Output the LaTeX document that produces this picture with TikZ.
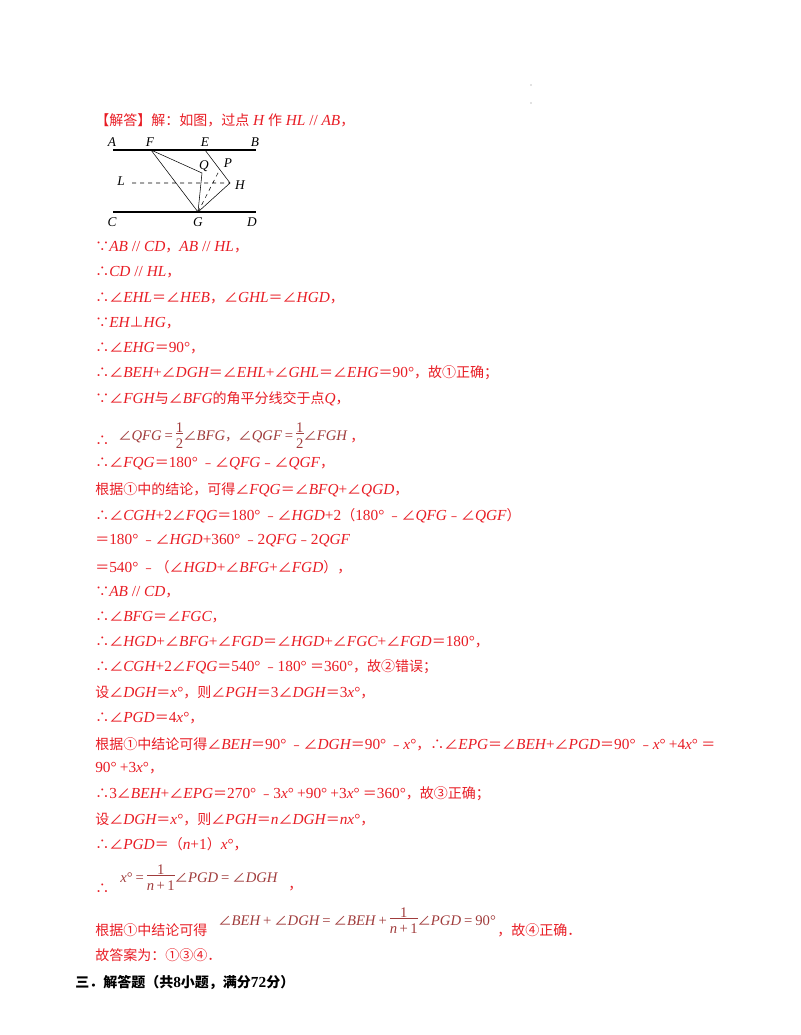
\documentclass[tikz,border=0pt]{standalone}
\usepackage{fontspec}
\setmainfont{Noto Sans CJK SC}
\newfontfamily\tms{Liberation Serif}
\newcommand\I[1]{{\tms\itshape\fontsize{11.5pt}{12pt}\selectfont #1}}
\newcommand\R[1]{{\tms\fontsize{11.5pt}{12pt}\selectfont #1}}
\newcommand\F[1]{{\tms\itshape\fontsize{11pt}{12pt}\selectfont #1}}
\newcommand\FR[1]{{\tms\fontsize{11pt}{12pt}\selectfont #1}}
\newcommand\frc[2]{\begin{tabular}{@{}c@{}}\FR{#1}\\[-3pt]\hline\rule{0pt}{11pt}\FR{#2}\end{tabular}}
\definecolor{rd}{RGB}{232,28,36}
\definecolor{fr}{RGB}{160,60,60}
\begin{document}
\begin{tikzpicture}[x=0.75pt,y=-0.75pt,
  t/.style={anchor=west,text=rd,font=\fontsize{10.5pt}{12pt}\selectfont,inner sep=0pt},
  lb/.style={font=\tms\itshape\fontsize{10pt}{12pt}\selectfont,inner sep=0pt},
  fm/.style={anchor=west,text=fr,font=\fontsize{10pt}{12pt}\selectfont,inner sep=0pt}]
\useasboundingbox (0,0) rectangle (800,1035);
\fill[gray] (531,85) circle (0.6) (531,103) circle (0.6);
% figure
\coordinate (A0) at (113,150); \coordinate (B0) at (256,150);
\coordinate (C0) at (113,212); \coordinate (D0) at (256,212);
\coordinate (F) at (151,150); \coordinate (E) at (205,150);
\coordinate (Q) at (202,173); \coordinate (H) at (230,183);
\coordinate (G) at (198,212); \coordinate (Lp) at (132,183);
\coordinate (P) at (220,169);
\draw[thick] (A0)--(B0) (C0)--(D0);
\draw (F)--(Q)--(G)--(F) (E)--(H)--(G);
\draw[dashed] (Lp)--(H) (G)--(P);
\node[lb] (lA) at (112,142) {A}; \node[lb] (lF) at (150,142) {F};
\node[lb] (lE) at (205,142) {E}; \node[lb] (lB) at (255,142) {B};
\node[lb] (lC) at (112,222) {C}; \node[lb] (lG) at (198,222) {G};
\node[lb] (lD) at (252,222) {D}; \node[lb] (lQ) at (204,166) {Q};
\node[lb] (lP) at (228,163) {P}; \node[lb] (lH) at (240,185) {H};
\node[lb] (lL) at (121,181) {L};
% text
\node[t] (l1) at (95,120) {【解答】解：如图，过点\I{ H }作\I{ HL}\R{ // }\I{AB}，};
\node[t] (l2) at (95,247) {∵\I{AB}\R{ // }\I{CD}，\I{AB}\R{ // }\I{HL}，};
\node[t] (l3) at (95,272) {∴\I{CD}\R{ // }\I{HL}，};
\node[t] (l4) at (95,298) {∴∠\I{EHL}＝∠\I{HEB}，∠\I{GHL}＝∠\I{HGD}，};
\node[t] (l5) at (95,323) {∵\I{EH}⊥\I{HG}，};
\node[t] (l6) at (95,348) {∴∠\I{EHG}＝\R{90°}，};
\node[t] (l7) at (95,373) {∴∠\I{BEH}\R{+}∠\I{DGH}＝∠\I{EHL}\R{+}∠\I{GHL}＝∠\I{EHG}＝\R{90°}，故①正确；};
\node[t] (l8) at (95,399) {∵∠\I{FGH}与∠\I{BFG}的角平分线交于点\I{Q}，};
\node[t] (l9) at (95,441) {∴};
\node[fm] (f1) at (118,437) {∠\F{QFG} \FR{=} \frc{1}{2}∠\F{BFG}，∠\F{QGF} \FR{=} \frc{1}{2}∠\F{FGH}};
\node[t] (c1) at (350,441) {，};
\node[t] (l10) at (95,464) {∴∠\I{FQG}＝\R{180°} ﹣∠\I{QFG}﹣∠\I{QGF}，};
\node[t] (l11) at (95,490) {根据①中的结论，可得∠\I{FQG}＝∠\I{BFQ}\R{+}∠\I{QGD}，};
\node[t] (l12) at (95,516) {∴∠\I{CGH}\R{+2}∠\I{FQG}＝\R{180°} ﹣∠\I{HGD}\R{+2}（\R{180°} ﹣∠\I{QFG}﹣∠\I{QGF}）};
\node[t] (l13) at (95,541) {＝\R{180°} ﹣∠\I{HGD}\R{+360°} ﹣\R{2}\I{QFG}﹣\R{2}\I{QGF}};
\node[t] (l14) at (95,567) {＝\R{540°} ﹣（∠\I{HGD}\R{+}∠\I{BFG}\R{+}∠\I{FGD}），};
\node[t] (l15) at (95,592) {∵\I{AB}\R{ // }\I{CD}，};
\node[t] (l16) at (95,617) {∴∠\I{BFG}＝∠\I{FGC}，};
\node[t] (l17) at (95,642) {∴∠\I{HGD}\R{+}∠\I{BFG}\R{+}∠\I{FGD}＝∠\I{HGD}\R{+}∠\I{FGC}\R{+}∠\I{FGD}＝\R{180°}，};
\node[t] (l18) at (95,667) {∴∠\I{CGH}\R{+2}∠\I{FQG}＝\R{540°} ﹣\R{180°} ＝\R{360°}，故②错误；};
\node[t] (l19) at (95,692) {设∠\I{DGH}＝\I{x}\R{°}，则∠\I{PGH}＝\R{3}∠\I{DGH}＝\R{3}\I{x}\R{°}，};
\node[t] (l20) at (95,718) {∴∠\I{PGD}＝\R{4}\I{x}\R{°}，};
\node[t] (l21) at (95,744) {根据①中结论可得∠\I{BEH}＝\R{90°} ﹣∠\I{DGH}＝\R{90°} ﹣\I{x}\R{°}，∴∠\I{EPG}＝∠\I{BEH}\R{+}∠\I{PGD}＝\R{90°} ﹣\I{x}\R{°} \R{+4}\I{x}\R{°} ＝};
\node[t] (l22) at (95,768) {\R{90°} \R{+3}\I{x}\R{°}，};
\node[t] (l23) at (95,794) {∴\R{3}∠\I{BEH}\R{+}∠\I{EPG}＝\R{270°} ﹣\R{3}\I{x}\R{°} \R{+90°} \R{+3}\I{x}\R{°} ＝\R{360°}，故③正确；};
\node[t] (l24) at (95,819) {设∠\I{DGH}＝\I{x}\R{°}，则∠\I{PGH}＝\I{n}∠\I{DGH}＝\I{nx}\R{°}，};
\node[t] (l25) at (95,844) {∴∠\I{PGD}＝（\I{n}\R{+1}）\I{x}\R{°}，};
\node[t] (l26) at (95,889) {∴};
\node[fm] (f2) at (120,879) {\F{x}\FR{°} \FR{=} \frc{1}{\F{n}\,+\,1}∠\F{PGD} \FR{=} ∠\F{DGH}};
\node[t] (c2) at (288,889) {，};
\node[t] (l27) at (95,930) {根据①中结论可得};
\node[fm] (f3) at (218,922) {∠\F{BEH} \FR{+} ∠\F{DGH} \FR{=} ∠\F{BEH} \FR{+} \frc{1}{\F{n}\,+\,1}∠\F{PGD} \FR{=} \FR{90°}};
\node[t] (l28) at (497,930) {，故④正确．};
\node[t] (l29) at (95,955) {故答案为：①③④．};
\node[t,text=black,font=\bfseries\fontsize{10.5pt}{12pt}\selectfont] (l30) at (75,983) {三．解答题（共\R{\textbf{8}}小题，满分\R{\textbf{72}}分）};
\end{tikzpicture}
\end{document}
